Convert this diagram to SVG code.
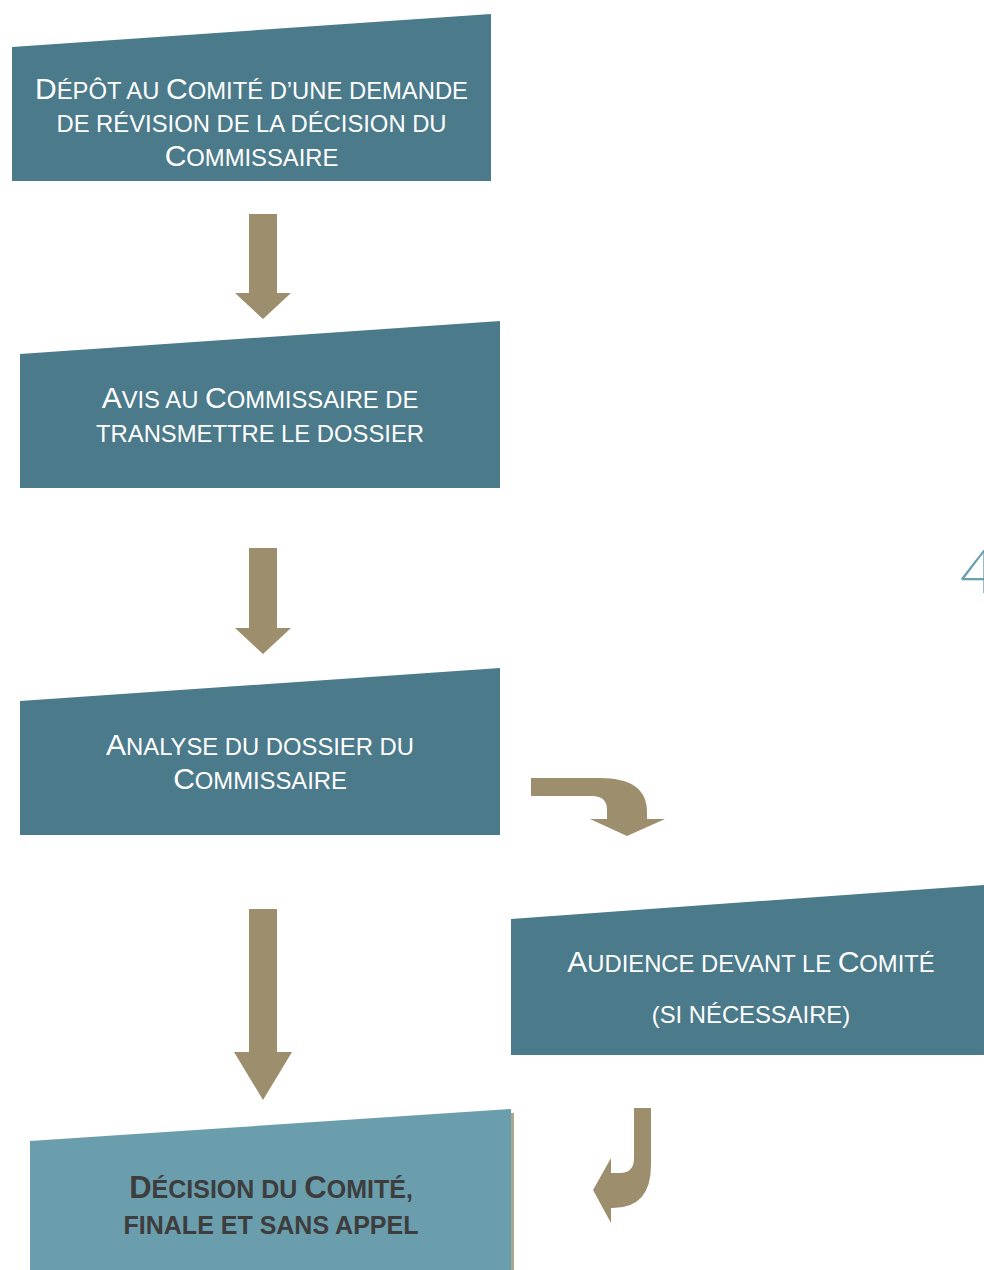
<svg xmlns="http://www.w3.org/2000/svg" width="984" height="1270" viewBox="0 0 984 1270">
<style>
.box{fill:#4b7a8a}
.box2{fill:#6b9ead}
.arrow{fill:#9d8f6e}
.t{font-family:"Liberation Sans",Arial,sans-serif;fill:#ffffff;text-anchor:middle}
.tb{font-family:"Liberation Sans",Arial,sans-serif;fill:#3d3d3d;text-anchor:middle;font-weight:bold}
.b{font-size:30px}
.s{font-size:23.8px}
.bb{font-size:31px}
.sb{font-size:25px}
</style>
<rect width="984" height="1270" fill="#ffffff"/>
<g id="node1">
<polygon class="box" points="12,47 491,14 491,181 12,181"/>
<text class="t" x="251.5" y="98.5"><tspan class="b">D</tspan><tspan class="s">ÉPÔT AU </tspan><tspan class="b">C</tspan><tspan class="s">OMITÉ D’UNE DEMANDE</tspan></text>
<text class="t" x="251.5" y="131.5"><tspan class="s">DE RÉVISION DE LA DÉCISION DU</tspan></text>
<text class="t" x="251.5" y="165.5"><tspan class="b">C</tspan><tspan class="s">OMMISSAIRE</tspan></text>
</g>
<g id="node2">
<polygon class="box" points="20,354 500,321 500,488 20,488"/>
<text class="t" x="260" y="408"><tspan class="b">A</tspan><tspan class="s">VIS AU </tspan><tspan class="b">C</tspan><tspan class="s">OMMISSAIRE DE</tspan></text>
<text class="t" x="260" y="442"><tspan class="s">TRANSMETTRE LE DOSSIER</tspan></text>
</g>
<g id="node3">
<polygon class="box" points="20,701 500,668 500,835 20,835"/>
<text class="t" x="260" y="755"><tspan class="b">A</tspan><tspan class="s">NALYSE DU DOSSIER DU</tspan></text>
<text class="t" x="260" y="789"><tspan class="b">C</tspan><tspan class="s">OMMISSAIRE</tspan></text>
</g>
<g id="node4">
<polygon class="box" points="511,919 984,885 984,1055 511,1055"/>
<text class="t" x="751" y="972"><tspan class="b">A</tspan><tspan class="s">UDIENCE DEVANT LE </tspan><tspan class="b">C</tspan><tspan class="s">OMITÉ</tspan></text>
<text class="t" x="751" y="1023"><tspan class="s">(SI NÉCESSAIRE)</tspan></text>
</g>
<g id="node5">
<rect x="511" y="1113" width="3" height="157" fill="#a9a88a"/>
<polygon class="box2" points="30,1141 511,1109 511,1270 30,1270"/>
<text class="tb" x="271" y="1198"><tspan class="bb">D</tspan><tspan class="sb">ÉCISION DU </tspan><tspan class="bb">C</tspan><tspan class="sb">OMITÉ,</tspan></text>
<text class="tb" x="271" y="1234"><tspan class="sb">FINALE ET SANS APPEL</tspan></text>
</g>
<g id="label4">
<text x="960" y="593" font-family="Lato,'Open Sans','Liberation Sans',sans-serif" font-weight="300" font-size="62" fill="#6a9fae">4</text>
</g>
<g id="connectors">
<polygon class="arrow" points="249,214 277,214 277,293 291,293 263,319 235,293 249,293"/>
<polygon class="arrow" points="249,548 277,548 277,628 291,628 263,654 235,628 249,628"/>
<polygon class="arrow" points="249,909 277,909 277,1052 292,1052 263,1100 234,1052 249,1052"/>
<path class="arrow" d="M531,778 L600,778 Q647,778 647,812 L647,819 L665,819 L627,836 L590,819 L607,819 L607,810 Q607,796 592,796 L531,796 Z"/>
<path class="arrow" d="M634,1108 L651,1108 L651,1165 Q651,1208 613,1208 L611,1208 L611,1223 L593,1190 L611,1158 L611,1173 L620,1173 Q634,1173 634,1158 Z"/>
</g>
</svg>
